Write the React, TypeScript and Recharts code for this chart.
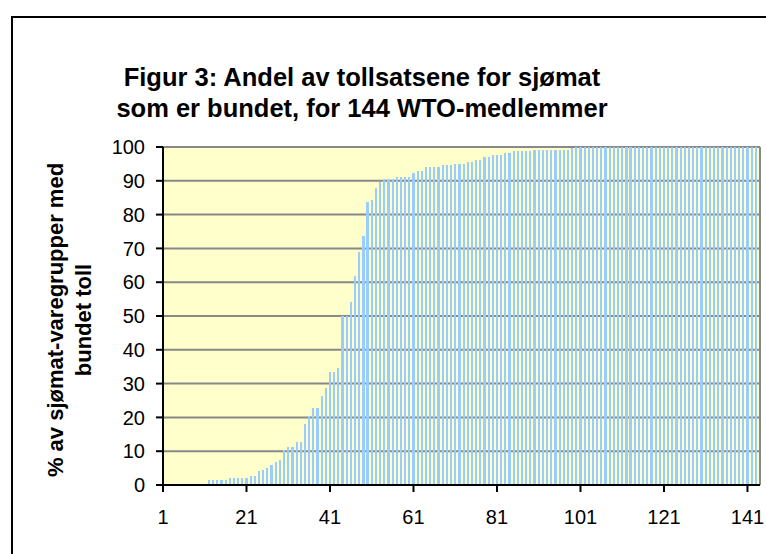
import { BarChart, Bar, XAxis, YAxis, CartesianGrid, ReferenceLine } from "recharts";

// rank of each WTO member (sorted by share), 1..144
const ranks = Array.from({ length: 144 }, (_, i) => i + 1);

// % of seafood tariff lines that are bound
const boundShare = [
  0, 0, 0, 0, 0, 0, 0, 0, 0, 0,
  0, 1.5, 1.5, 1.5, 1.5, 1.5, 2.2, 2.2, 2.2, 2.2,
  2.2, 2.8, 2.8, 4.0, 4.5, 5.1, 5.8, 6.9, 7.5, 10.5,
  11.1, 11.1, 12.8, 12.8, 18.1, 20.4, 22.8, 22.8, 26.3, 28.6,
  33.4, 33.4, 34.6, 50.0, 50.0, 54.2, 61.9, 69.0, 73.8, 83.8,
  84.4, 88.0, 89.7, 90.4, 90.4, 90.4, 91.1, 91.1, 91.1, 91.1,
  92.2, 92.8, 92.8, 94.0, 94.0, 94.0, 94.0, 94.6, 94.6, 94.6,
  95.1, 95.1, 95.1, 95.7, 95.7, 96.3, 96.3, 96.9, 96.9, 97.5,
  97.5, 97.5, 98.1, 98.1, 98.7, 98.7, 98.7, 98.7, 98.7, 99.2,
  99.2, 99.2, 99.2, 99.2, 99.2, 99.2, 99.2, 99.2, 99.6, 100,
  100, 100, 100, 100, 100, 100, 100, 100, 100, 100,
  100, 100, 100, 100, 100, 100, 100, 100, 100, 100,
  100, 100, 100, 100, 100, 100, 100, 100, 100, 100,
  100, 100, 100, 100, 100, 100, 100, 100, 100, 100,
  100, 100, 100, 100,
];

const xTicks = [1, 21, 41, 61, 81, 101, 121, 141];
const yTicks = [0, 10, 20, 30, 40, 50, 60, 70, 80, 90, 100];

const titleLines = ["Figur 3: Andel av tollsatsene for sjømat", "som er bundet, for 144 WTO-medlemmer"];
const yTitleLines = ["% av sjømat-varegrupper med", "bundet toll"];

const font = "'Liberation Sans', Arial, sans-serif";

// snap bars to whole pixels so they stay crisp like the original
function CrispBar(props: any) {
  const { x, y, width, height, fill } = props;
  if (!height || height <= 0) return null;
  const x0 = Math.round(x);
  const x1 = Math.round(x + width);
  const y0 = Math.round(y);
  const y1 = Math.round(y + height);
  return <rect x={x0} y={y0} width={Math.max(1, x1 - x0)} height={y1 - y0} fill={fill} shapeRendering="crispEdges" />;
}

export default function App() {
  const data = ranks.map((r, i) => ({ rank: r, value: boundShare[i] }));

  return (
    <div style={{ position: "fixed", left: 0, top: 0, width: 766, height: 554, overflow: "hidden", background: "#fff" }}>
      <div
        style={{
          position: "absolute",
          left: 11,
          top: 16,
          width: 820,
          height: 620,
          border: "2px solid #000",
        }}
      />
      <div style={{ position: "absolute", left: 0, top: 0 }}>
        <BarChart width={766} height={554} data={data} margin={{ top: 147, right: 6, left: 0, bottom: 0 }}>
          <CartesianGrid
            horizontal
            vertical={false}
            fill="#FFFFCC"
            stroke="#888"
            strokeWidth={2}
          />
          <XAxis
            dataKey="rank"
            type="number"
            domain={[1, 144]}
            ticks={xTicks}
            interval={0}
            height={69}
            tick={{ fill: "#000", fontSize: 20, fontFamily: font }}
            tickSize={7}
            tickMargin={18}
            axisLine={{ stroke: "#000", strokeWidth: 2 }}
            tickLine={{ stroke: "#000", strokeWidth: 2 }}
          />
          <YAxis
            type="number"
            domain={[0, 100]}
            ticks={yTicks}
            interval={0}
            width={163}
            tick={{ fill: "#000", fontSize: 20, fontFamily: font }}
            tickSize={7}
            tickMargin={11}
            axisLine={{ stroke: "#000", strokeWidth: 2 }}
            tickLine={{ stroke: "#000", strokeWidth: 2 }}
          />
          <Bar dataKey="value" fill="#99CCFF" barSize={2.2} shape={CrispBar} isAnimationActive={false} />
          <ReferenceLine x={144} stroke="#888" strokeWidth={2} />
        </BarChart>
      </div>
      <svg
        width={766}
        height={554}
        style={{ position: "absolute", left: 0, top: 0, pointerEvents: "none" }}
      >
        {titleLines.map((t, i) => (
          <text
            key={t}
            x={362}
            y={77 + i * 31}
            textAnchor="middle"
            dominantBaseline="central"
            fontFamily={font}
            fontWeight="bold"
            fontSize={25.5}
            fill="#000"
          >
            {t}
          </text>
        ))}
        {yTitleLines.map((t, i) => (
          <text
            key={t}
            x={0}
            y={0}
            transform={`translate(${55 + i * 28}, 320) rotate(-90)`}
            textAnchor="middle"
            dominantBaseline="central"
            fontFamily={font}
            fontWeight="bold"
            fontSize={22}
            fill="#000"
          >
            {t}
          </text>
        ))}
      </svg>
    </div>
  );
}
